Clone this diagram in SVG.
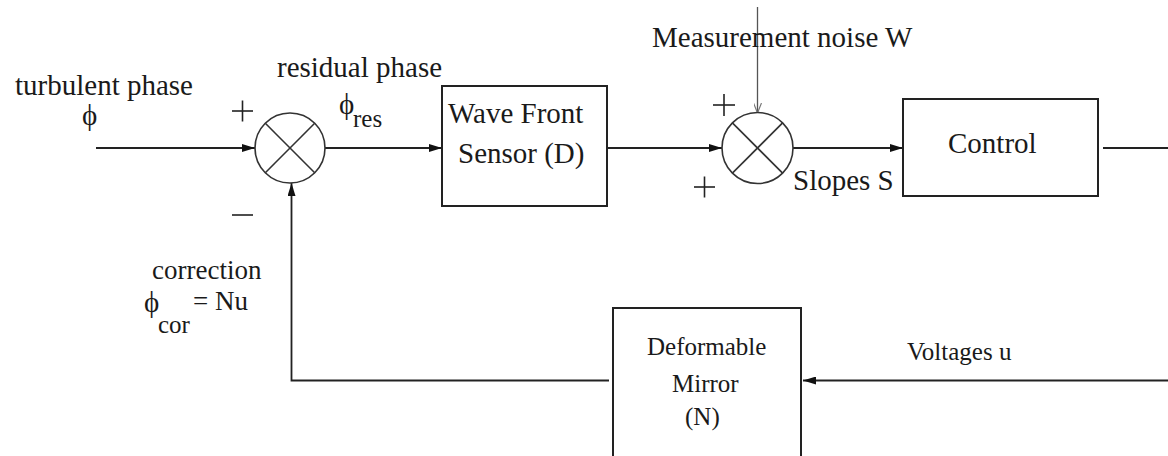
<svg xmlns="http://www.w3.org/2000/svg" width="1168" height="456" viewBox="0 0 1168 456" font-family="'Liberation Serif', serif">
<style>
.t{font-family:'Liberation Serif',serif;font-size:29px;fill:#1a1a1a}
.m{font-size:25px}
.c{font-size:27px}
.sub{font-size:25px}
.box{fill:#fff;stroke:#222;stroke-width:2}
.sum{fill:#fff;stroke:#333;stroke-width:1.6}
.x{stroke:#333;stroke-width:1.6}
.ln{fill:none;stroke:#222;stroke-width:1.8}
.thin{fill:none;stroke:#555;stroke-width:1.3}
.sign{stroke:#222;stroke-width:1.6}
</style>
<defs>
<marker id="ah" viewBox="0 0 13 8" refX="13" refY="4" markerWidth="13" markerHeight="8" markerUnits="userSpaceOnUse" orient="auto">
<path d="M0,0 L13,4 L0,8 Z" fill="#111"/>
</marker>
<marker id="ah2" viewBox="0 0 10 8" refX="10" refY="4" markerWidth="10" markerHeight="8" markerUnits="userSpaceOnUse" orient="auto">
<path d="M0,0 L10,4 L0,8" fill="none" stroke="#777" stroke-width="1.2"/>
</marker>
</defs>
<rect width="1168" height="456" fill="#fff"/>

<g id="connectors">
<line class="ln" x1="96" y1="148" x2="255" y2="148" marker-end="url(#ah)"/>
<line class="ln" x1="325" y1="148" x2="442" y2="148" marker-end="url(#ah)"/>
<line class="ln" x1="607" y1="148" x2="722" y2="148" marker-end="url(#ah)"/>
<line class="ln" x1="793" y1="148" x2="903" y2="148" marker-end="url(#ah)"/>
<line class="ln" x1="1103" y1="148" x2="1168" y2="148"/>
<line class="ln" x1="1168" y1="380.5" x2="803" y2="380.5" marker-end="url(#ah)"/>
<polyline class="ln" points="609,380.5 291.5,380.5 291.5,183" marker-end="url(#ah)"/>
<line class="thin" x1="757.5" y1="7" x2="757.5" y2="113" marker-end="url(#ah2)"/>
</g>

<g id="sum1">
<circle class="sum" cx="290" cy="148" r="35"/>
<line class="x" x1="265.3" y1="123.3" x2="314.7" y2="172.7"/>
<line class="x" x1="314.7" y1="123.3" x2="265.3" y2="172.7"/>
<line class="sign" x1="232" y1="111" x2="253" y2="111"/>
<line class="sign" x1="242.5" y1="100.5" x2="242.5" y2="121.5"/>
<line class="sign" x1="232" y1="215" x2="253" y2="215"/>
</g>

<g id="sum2">
<circle class="sum" cx="757.5" cy="148" r="35.5"/>
<line class="x" x1="732.4" y1="122.9" x2="782.6" y2="173.1"/>
<line class="x" x1="782.6" y1="122.9" x2="732.4" y2="173.1"/>
<line class="sign" x1="713" y1="105" x2="735" y2="105"/>
<line class="sign" x1="724" y1="94" x2="724" y2="116"/>
<line class="sign" x1="694" y1="187" x2="715" y2="187"/>
<line class="sign" x1="704.5" y1="176.5" x2="704.5" y2="197.5"/>
</g>

<g id="wfs">
<rect class="box" x="442" y="86" width="165" height="120"/>
<text class="t" x="448" y="123">Wave Front</text>
<text class="t" x="458" y="163">Sensor (D)</text>
</g>

<g id="control">
<rect class="box" x="903" y="99" width="195" height="97"/>
<text class="t" x="948" y="153">Control</text>
</g>

<g id="dm">
<rect class="box" x="613" y="308" width="188" height="170"/>
<text class="t m" x="647" y="355">Deformable</text>
<text class="t m" x="672" y="392">Mirror</text>
<text class="t m" x="685" y="425">(N)</text>
</g>

<g id="labels">
<text class="t" x="15" y="95">turbulent phase</text>
<text class="t" x="82" y="125">ϕ</text>
<text class="t" x="277" y="77">residual phase</text>
<text class="t" x="339" y="114">ϕ</text>
<text class="t sub" x="353" y="127">res</text>
<text class="t" x="652" y="47">Measurement noise W</text>
<text class="t" x="793" y="190">Slopes S</text>
<text class="t c" x="152" y="279">correction</text>
<text class="t" x="144" y="312">ϕ</text>
<text class="t sub" x="158" y="333">cor</text>
<text class="t c" x="193" y="310">= Nu</text>
<text class="t m" x="907" y="360">Voltages u</text>
</g>
</svg>
